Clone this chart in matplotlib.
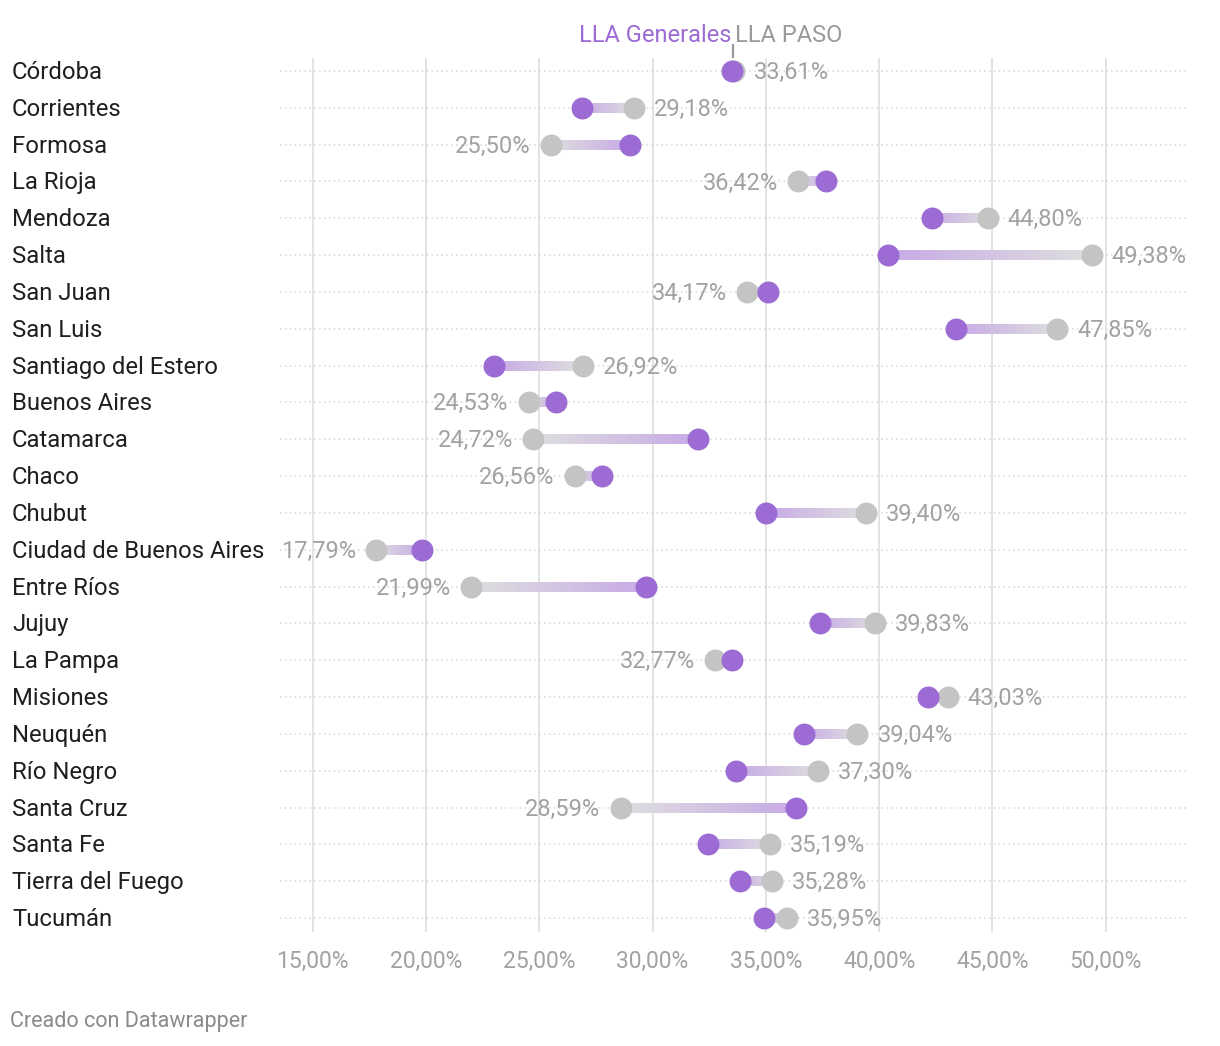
import matplotlib
matplotlib.use("Agg")
import matplotlib.pyplot as plt
import matplotlib.transforms as mtransforms
from matplotlib.collections import LineCollection
from matplotlib.colors import to_rgb
import numpy as np

provinces = ["Córdoba", "Corrientes", "Formosa", "La Rioja", "Mendoza", "Salta",
             "San Juan", "San Luis", "Santiago del Estero", "Buenos Aires",
             "Catamarca", "Chaco", "Chubut", "Ciudad de Buenos Aires",
             "Entre Ríos", "Jujuy", "La Pampa", "Misiones", "Neuquén",
             "Río Negro", "Santa Cruz", "Santa Fe", "Tierra del Fuego", "Tucumán"]
paso = [33.61, 29.18, 25.50, 36.42, 44.80, 49.38, 34.17, 47.85, 26.92, 24.53,
        24.72, 26.56, 39.40, 17.79, 21.99, 39.83, 32.77, 43.03, 39.04, 37.30,
        28.59, 35.19, 35.28, 35.95]
generales = [33.52, 26.87, 28.99, 37.64, 42.32, 40.37, 35.08, 43.38, 22.99, 25.72,
             31.99, 27.75, 34.99, 19.81, 29.70, 37.37, 33.49, 42.14, 36.67, 33.67,
             36.31, 32.43, 33.84, 34.90]
xticks = [15, 20, 25, 30, 35, 40, 45, 50]

W, H = 1220, 1046
fig = plt.figure(figsize=(W / 100, H / 100), dpi=100)
fig.patch.set_facecolor("white")
plt.rcParams["font.family"] = ["Roboto", "DejaVu Sans"]

left, right, top, bottom = 280, 1186, 58, 932
ax = fig.add_axes([left / W, 1 - bottom / H, (right - left) / W, (bottom - top) / H])
ppu = (1105.7 - 312.7) / 35.0
x0 = 15 - (312.7 - left) / ppu
x1 = 15 + (right - 312.7) / ppu
ax.set_xlim(x0, x1)
row0, rowstep = 71.0, (918.0 - 71.0) / 23
ax.set_ylim((bottom - row0) / rowstep, (top - row0) / rowstep)

for s in ax.spines.values():
    s.set_visible(False)
ax.set_yticks([])
ax.set_xticks(xticks)
ax.set_xticklabels([f"{t:.2f}%".replace(".", ",") for t in xticks])
ax.tick_params(axis="x", length=0, pad=13, labelsize=16.5, labelcolor="#a2a2a2")
for t in xticks:
    ax.axvline(t, color="#e3e3e3", lw=1.4, zorder=0)

purple = "#9c6bd4"
gray = "#c4c4c4"
lgray = np.array(to_rgb("#dedede"))
lpurp = np.array(to_rgb("#c7aae6"))

down = mtransforms.ScaledTranslation(0, -1.5 / 100, fig.dpi_scale_trans)

n = len(provinces)
for i in range(n):
    p, g = paso[i], generales[i]
    ax.plot([x0, x1], [i, i], color="#d6d6d6", lw=1.1, ls=(0, (1, 2.2)), zorder=1)
    k = 40
    xs = np.linspace(p, g, k + 1)
    segs = [[(xs[j], i), (xs[j + 1], i)] for j in range(k)]
    cols = [lgray + (lpurp - lgray) * (j + 0.5) / k for j in range(k)]
    lc = LineCollection(segs, colors=cols, linewidths=7.2, capstyle="butt", zorder=2)
    ax.add_collection(lc)
    ax.scatter([p], [i], s=250, color=gray, zorder=3, linewidths=0)
    ax.scatter([g], [i], s=250, color=purple, zorder=4, linewidths=0)
    lab = f"{p:.2f}%".replace(".", ",")
    off = 20 / ppu
    if p >= g:
        ax.text(p + off, i, lab, ha="left", va="center", fontsize=17, color="#a2a2a2",
                zorder=5, transform=ax.transData + down)
    else:
        ax.text(p - off, i, lab, ha="right", va="center", fontsize=17, color="#a2a2a2",
                zorder=5, transform=ax.transData + down)
    ax.text((12 - left) / (right - left), i, provinces[i],
            transform=ax.get_yaxis_transform() + down,
            ha="left", va="center", fontsize=17.2, color="#1f1f1f", clip_on=False)

# header labels around Córdoba
btr = mtransforms.blended_transform_factory(ax.transData, fig.transFigure)
cx = (paso[0] + generales[0]) / 2
dx = 2 / ppu
fig.text(cx - dx, 1 - 35 / H, "LLA Generales", transform=btr, ha="right", va="center",
         fontsize=17, color=purple)
fig.text(cx + dx, 1 - 35 / H, "LLA PASO", transform=btr, ha="left", va="center",
         fontsize=17, color="#9a9a9a")
fig.add_artist(plt.Line2D([cx, cx], [1 - 45 / H, 1 - 57 / H], transform=btr,
                          color="#9a9a9a", lw=1.6))

fig.text(10 / W, 1 - 1021 / H, "Creado con Datawrapper", ha="left", va="center",
         fontsize=15.5, color="#8a8a8a")

fig.savefig("out.png", dpi=100, facecolor="white")
